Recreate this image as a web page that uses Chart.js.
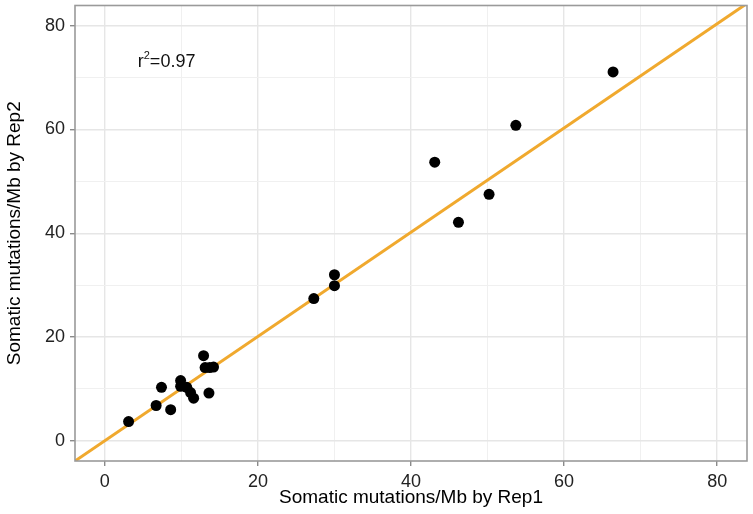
<!DOCTYPE html>
<html>
<head>
<meta charset="utf-8">
<script src="https://cdn.jsdelivr.net/npm/chart.js@4.4.0/dist/chart.umd.min.js"></script>
<style>
  html, body { margin: 0; padding: 0; background: #fff; }
</style>
</head>
<body>
<canvas id="myChart" width="753" height="514"></canvas>
<script>
// somatic mutations/Mb per sample
const rep1 = [3.1, 6.7, 7.4, 8.6, 9.9, 9.9, 10.7, 11.2, 11.6, 12.9, 13.1, 13.6, 13.7, 14.2,
              27.3, 30.0, 30.0, 43.1, 46.2, 50.2, 53.7, 66.4];
const rep2 = [3.7, 6.8, 10.3, 6.0, 11.6, 10.5, 10.3, 9.3, 8.2, 16.4, 14.1, 9.2, 14.1, 14.2,
              27.4, 29.9, 32.0, 53.7, 42.1, 47.5, 60.8, 71.1];

// fitted line
const fitX = [-4, 84];
const fitY = [-4, 84.4];

// axes
const axisRange = [-3.9, 83.9];
const gridValues = [0, 10, 20, 30, 40, 50, 60, 70, 80];
const tickLabels = ['0', '20', '40', '60', '80'];
const r2Label = { x: 4.3, y: 73, text: '0.97' };

const points = rep1.map((x, i) => ({ x: x, y: rep2[i] }));
const fitLine = fitX.map((x, i) => ({ x: x, y: fitY[i] }));

const isMajor = v => tickLabels.includes(String(v));

function axisOptions(title, titlePadding, fitSize) {
    return {
        type: 'linear',
        min: axisRange[0],
        max: axisRange[1],
        afterBuildTicks: scale => { scale.ticks = gridValues.map(v => ({ value: v })); },
        afterFit: s => {
            fitSize(s);
            // no extra room for overhanging labels
            s.paddingTop = 0; s.paddingBottom = 0; s.paddingLeft = 0; s.paddingRight = 0;
        },
        grid: {
            color: ctx => isMajor(ctx.tick.value) ? '#e6e6e6' : '#f0f0f0',
            lineWidth: ctx => isMajor(ctx.tick.value) ? 1.4 : 1,
            tickColor: ctx => isMajor(ctx.tick.value) ? '#8a8a8a' : 'rgba(0,0,0,0)',
            tickLength: 5,
            tickWidth: 1.4
        },
        border: { display: false },
        ticks: {
            autoSkip: false,
            maxRotation: 0,
            padding: 5,
            color: '#222',
            font: { family: 'Liberation Sans', size: 18 },
            callback: v => isMajor(v) ? String(v) : ''
        },
        title: {
            display: true,
            text: title,
            color: '#000',
            font: { family: 'Liberation Sans', size: 19 },
            padding: titlePadding
        }
    };
}

// grey box round the panel
const panelBox = {
    id: 'panelBox',
    afterDatasetsDraw(chart) {
        const a = chart.chartArea;
        const c = chart.ctx;
        c.save();
        c.strokeStyle = '#9a9a9a';
        c.lineWidth = 1.6;
        c.strokeRect(a.left, a.top, a.right - a.left, a.bottom - a.top);
        c.restore();
    }
};

// r^2 annotation
const r2Text = {
    id: 'r2Text',
    afterDatasetsDraw(chart) {
        const c = chart.ctx;
        const x = chart.scales.x.getPixelForValue(r2Label.x);
        const y = chart.scales.y.getPixelForValue(r2Label.y);
        c.save();
        c.fillStyle = '#111';
        c.textBaseline = 'middle';
        c.font = '18px "Liberation Sans"';
        c.fillText('r', x, y);
        let w = c.measureText('r').width;
        c.font = '11px "Liberation Sans"';
        c.fillText('2', x + w, y - 6);
        w += c.measureText('2').width;
        c.font = '18px "Liberation Sans"';
        c.fillText('=' + r2Label.text, x + w, y);
        c.restore();
    }
};

const ctx = document.getElementById('myChart').getContext('2d');
new Chart(ctx, {
    type: 'scatter',
    data: {
        datasets: [{
            label: 'samples',
            data: points,
            backgroundColor: '#000',
            borderWidth: 0,
            pointRadius: 5.5,
            order: 0
        }, {
            label: 'fit',
            data: fitLine,
            showLine: true,
            borderColor: '#f0a92e',
            borderWidth: 3,
            pointRadius: 0,
            order: 1
        }]
    },
    options: {
        responsive: false,
        animation: false,
        layout: { padding: { top: 5, right: 6, left: 0, bottom: 0 } },
        plugins: { legend: { display: false }, tooltip: { enabled: false } },
        scales: {
            x: axisOptions('Somatic mutations/Mb by Rep1', { top: 0, bottom: 5 }, s => { s.height = 53; }),
            y: axisOptions('Somatic mutations/Mb by Rep2', { top: 3.5, bottom: 0 }, s => { s.width = 75; })
        }
    },
    plugins: [panelBox, r2Text]
});
</script>
</body>
</html>
